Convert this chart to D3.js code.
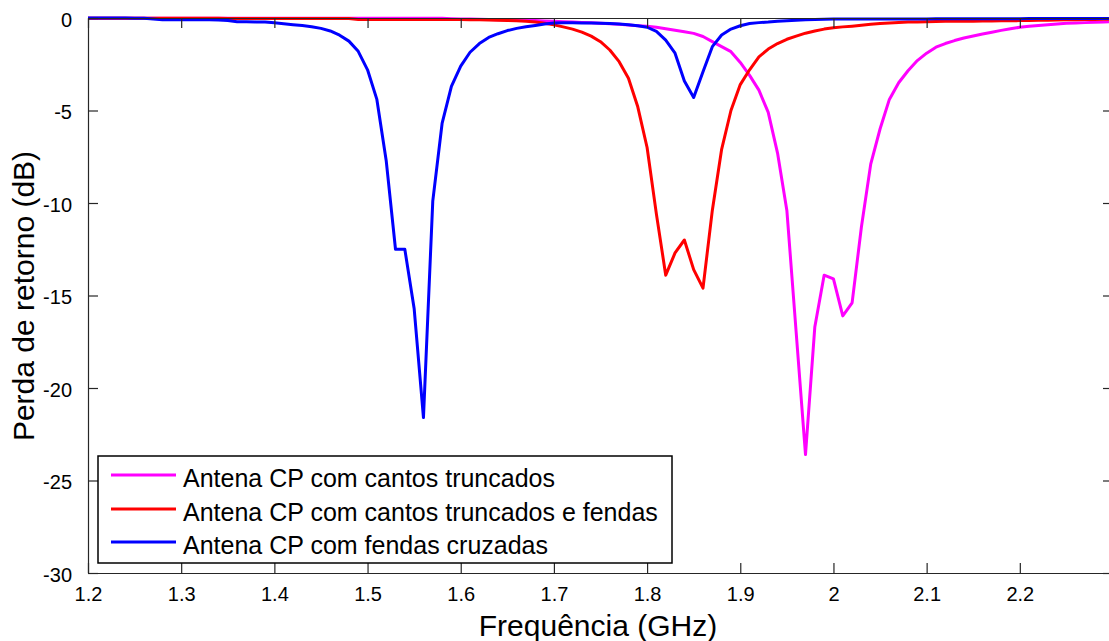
<!DOCTYPE html>
<html lang="en">
<head>
<meta charset="utf-8">
<title>Perda de retorno</title>
<script src="https://cdn.jsdelivr.net/npm/d3@7"></script>
<style>
body { margin: 0; background: #fff; }
text { font-family: "Liberation Sans", Arial, sans-serif; fill: #000; }
</style>
</head>
<body>
<script>
// frequency grid (GHz)
var freq = [1.20,1.21,1.22,1.23,1.24,1.25,1.26,1.27,1.28,1.29,
  1.30,1.31,1.32,1.33,1.34,1.35,1.36,1.37,1.38,1.39,
  1.40,1.41,1.42,1.43,1.44,1.45,1.46,1.47,1.48,1.49,
  1.50,1.51,1.52,1.53,1.54,1.55,1.56,1.57,1.58,1.59,
  1.60,1.61,1.62,1.63,1.64,1.65,1.66,1.67,1.68,1.69,
  1.70,1.71,1.72,1.73,1.74,1.75,1.76,1.77,1.78,1.79,
  1.80,1.81,1.82,1.83,1.84,1.85,1.86,1.87,1.88,1.89,
  1.90,1.91,1.92,1.93,1.94,1.95,1.96,1.97,1.98,1.99,
  2.00,2.01,2.02,2.03,2.04,2.05,2.06,2.07,2.08,2.09,
  2.10,2.11,2.12,2.13,2.14,2.15,2.16,2.17,2.18,2.19,
  2.20,2.21,2.22,2.23,2.24,2.25,2.26,2.27,2.28,2.29,2.30];

// Antena CP com cantos truncados
var cantos = [-0.01,-0.01,-0.01,-0.01,-0.01,-0.01,-0.01,-0.01,-0.01,-0.01,
  -0.01,-0.01,-0.01,-0.01,-0.01,-0.01,-0.01,-0.01,-0.01,-0.01,
  -0.01,-0.01,-0.01,-0.01,-0.01,-0.01,-0.01,-0.01,-0.01,-0.01,
  -0.01,-0.02,-0.02,-0.02,-0.02,-0.02,-0.02,-0.02,-0.02,-0.04,
  -0.05,-0.06,-0.07,-0.08,-0.09,-0.1,-0.11,-0.13,-0.14,-0.16,
  -0.18,-0.2,-0.22,-0.24,-0.26,-0.28,-0.31,-0.34,-0.38,-0.42,
  -0.45,-0.5,-0.58,-0.66,-0.74,-0.83,-1.0,-1.28,-1.55,-1.82,
  -2.4,-3.1,-3.9,-5.1,-7.3,-10.4,-17.0,-23.6,-16.7,-13.9,
  -14.1,-16.1,-15.4,-11.3,-7.9,-6.0,-4.4,-3.5,-2.85,-2.3,
  -1.9,-1.58,-1.38,-1.22,-1.08,-0.97,-0.87,-0.77,-0.67,-0.58,
  -0.5,-0.45,-0.4,-0.36,-0.32,-0.29,-0.27,-0.25,-0.23,-0.21,-0.19];

// Antena CP com cantos truncados e fendas
var cantosFendas = [-0.01,-0.01,-0.01,-0.01,-0.01,-0.01,-0.01,-0.01,-0.01,-0.01,
  -0.01,-0.01,-0.01,-0.01,-0.01,-0.03,-0.03,-0.03,-0.03,-0.03,
  -0.03,-0.03,-0.03,-0.03,-0.03,-0.03,-0.03,-0.03,-0.03,-0.08,
  -0.08,-0.08,-0.08,-0.08,-0.08,-0.08,-0.08,-0.08,-0.08,-0.08,
  -0.08,-0.1,-0.1,-0.11,-0.12,-0.13,-0.15,-0.18,-0.22,-0.28,
  -0.37,-0.48,-0.6,-0.76,-0.98,-1.28,-1.73,-2.36,-3.26,-4.8,
  -7.0,-10.6,-13.9,-12.7,-12.0,-13.6,-14.6,-10.4,-7.1,-5.0,
  -3.6,-2.8,-2.1,-1.68,-1.38,-1.15,-0.98,-0.82,-0.7,-0.6,
  -0.53,-0.48,-0.44,-0.39,-0.34,-0.3,-0.27,-0.24,-0.22,-0.21,
  -0.2,-0.19,-0.18,-0.18,-0.17,-0.17,-0.16,-0.16,-0.15,-0.15,
  -0.14,-0.13,-0.12,-0.12,-0.11,-0.1,-0.09,-0.08,-0.08,-0.07,-0.07];

// Antena CP com fendas cruzadas
var fendasCruzadas = [0,0,0,0,0,-0.01,-0.02,-0.05,-0.1,-0.1,
  -0.1,-0.1,-0.1,-0.1,-0.11,-0.13,-0.2,-0.2,-0.21,-0.22,
  -0.26,-0.31,-0.36,-0.41,-0.47,-0.56,-0.7,-0.93,-1.25,-1.8,
  -2.8,-4.4,-7.7,-12.5,-12.5,-15.7,-21.6,-9.9,-5.7,-3.7,
  -2.6,-1.85,-1.38,-1.05,-0.85,-0.68,-0.56,-0.47,-0.4,-0.33,
  -0.27,-0.26,-0.26,-0.27,-0.27,-0.28,-0.3,-0.32,-0.36,-0.42,
  -0.5,-0.72,-1.2,-1.9,-3.4,-4.3,-2.9,-1.55,-0.92,-0.6,
  -0.42,-0.3,-0.25,-0.22,-0.17,-0.15,-0.12,-0.1,-0.08,-0.07,
  -0.06,-0.05,-0.05,-0.05,-0.05,-0.05,-0.05,-0.05,-0.05,-0.05,
  -0.05,-0.04,-0.04,-0.04,-0.04,-0.04,-0.04,-0.04,-0.04,-0.04,
  -0.04,-0.03,-0.03,-0.03,-0.03,-0.03,-0.03,-0.03,-0.03,-0.03,-0.03];

var seriesNames = ["Antena CP com cantos truncados",
                   "Antena CP com cantos truncados e fendas",
                   "Antena CP com fendas cruzadas"];
var seriesColors = ["#ff00ff", "#ff0000", "#0000ff"];
var seriesValues = [cantos, cantosFendas, fendasCruzadas];

var xTicks = [1.2, 1.3, 1.4, 1.5, 1.6, 1.7, 1.8, 1.9, 2.0, 2.1, 2.2];
var yTicks = [0, -5, -10, -15, -20, -25, -30];

var w = 1109, h = 641;
var padL = 88, padR = 1113, padT = 18, padB = 573;

var svg = d3.select("body").append("svg")
    .attr("width", w)
    .attr("height", h);

var x = d3.scaleLinear().domain([1.2, 2.3]).range([padL, padR]);
var y = d3.scaleLinear().domain([-30, 0]).range([padB, padT]);

// curves (first series under the others)
var line = d3.line()
    .x(function(d) { return x(d[0]); })
    .y(function(d) { return y(d[1]); });

seriesValues.forEach(function(vals, k) {
    svg.append("path")
        .datum(freq.map(function(f, i) { return [f, vals[i]]; }))
        .attr("d", line)
        .attr("fill", "none")
        .attr("stroke", seriesColors[k])
        .attr("stroke-width", 3)
        .attr("stroke-linejoin", "round");
});

// axes box with inward ticks
var axisColor = "#262626";
var xBottom = d3.axisBottom(x).tickValues(xTicks).tickSizeInner(-10).tickSizeOuter(0)
    .tickFormat(function(d) { return String(+d.toFixed(1)); }).tickPadding(14);
var xTop = d3.axisTop(x).tickValues(xTicks).tickSizeInner(-10).tickSizeOuter(0).tickFormat("");
var yLeft = d3.axisLeft(y).tickValues(yTicks).tickSizeInner(-10).tickSizeOuter(0).tickPadding(16)
    .tickFormat(function(d) { return String(d); });
var yRight = d3.axisRight(y).tickValues(yTicks).tickSizeInner(-10).tickSizeOuter(0).tickFormat("");

function styleAxis(g) {
    g.selectAll("path, line").attr("stroke", axisColor).attr("stroke-width", 1.2);
    g.selectAll("text")
        .style("font-family", "'Liberation Sans', Arial, sans-serif")
        .style("font-size", "20px")
        .attr("fill", "#000");
}

svg.append("g").attr("transform", "translate(0," + padB + ")").call(xBottom).call(styleAxis);
svg.append("g").attr("transform", "translate(0," + padT + ")").call(xTop).call(styleAxis);
svg.append("g").attr("transform", "translate(" + padL + ",0)").call(yLeft).call(styleAxis)
    .selectAll("text").attr("dy", "0.4em");
svg.append("g").attr("transform", "translate(" + padR + ",0)").call(yRight).call(styleAxis);

// axis titles
svg.append("text")
    .attr("x", 598).attr("y", 636)
    .attr("text-anchor", "middle")
    .style("font-size", "30px")
    .text("Frequência (GHz)");

svg.append("text")
    .attr("transform", "translate(34,296) rotate(-90)")
    .attr("text-anchor", "middle")
    .style("font-size", "30px")
    .text("Perda de retorno (dB)");

// legend
var legend = svg.append("g");
legend.append("rect")
    .attr("x", 98).attr("y", 456)
    .attr("width", 574).attr("height", 107)
    .attr("fill", "#fff")
    .attr("stroke", "#000")
    .attr("stroke-width", 1.5);

var rowY = [475, 509, 542];
seriesNames.forEach(function(name, k) {
    legend.append("line")
        .attr("x1", 111).attr("x2", 176)
        .attr("y1", rowY[k]).attr("y2", rowY[k])
        .attr("stroke", seriesColors[k])
        .attr("stroke-width", 3);
    legend.append("text")
        .attr("x", 183).attr("y", rowY[k] + 12)
        .style("font-size", "25px")
        .text(name);
});
</script>
</body>
</html>
